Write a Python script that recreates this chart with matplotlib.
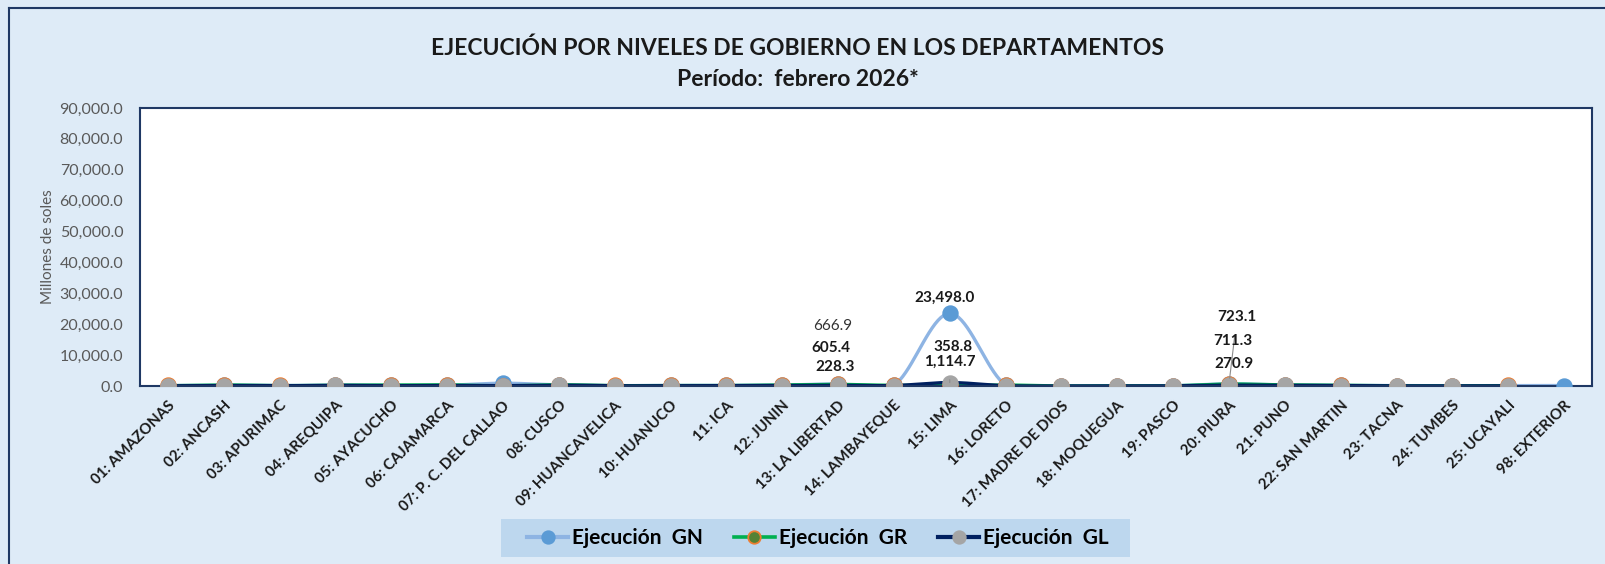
import matplotlib.pyplot as plt
from matplotlib.lines import Line2D
from matplotlib.patches import Rectangle
import numpy as np

plt.rcParams['font.family'] = ['Lato', 'DejaVu Sans']

departamentos = ['01: AMAZONAS', '02: ANCASH', '03: APURIMAC', '04: AREQUIPA',
                 '05: AYACUCHO', '06: CAJAMARCA', '07: P. C. DEL CALLAO', '08: CUSCO',
                 '09: HUANCAVELICA', '10: HUANUCO', '11: ICA', '12: JUNIN',
                 '13: LA LIBERTAD', '14: LAMBAYEQUE', '15: LIMA', '16: LORETO',
                 '17: MADRE DE DIOS', '18: MOQUEGUA', '19: PASCO', '20: PIURA',
                 '21: PUNO', '22: SAN MARTIN', '23: TACNA', '24: TUMBES',
                 '25: UCAYALI', '98: EXTERIOR']

# millones de soles (estimados, salvo los rotulados)
ejec_gn = [150, 250, 150, 300, 200, 250, 900, 350, 120, 180, 200, 300,
           666.9, 250, 23498.0, 350, 60, 80, 90, 723.1, 300, 200, 120, 80, 130, 150]
ejec_gr = [180, 420, 200, 350, 380, 450, 150, 480, 200, 250, 230, 420,
           605.4, 300, 358.8, 420, 90, 120, 150, 711.3, 450, 330, 150, 120, 200, None]
ejec_gl = [60, 150, 70, 200, 90, 150, 120, 250, 60, 80, 80, 130,
           228.3, 150, 1114.7, 90, 20, 50, 40, 270.9, 170, 100, 40, 30, 50, None]

y_ticks = [0, 10000, 20000, 30000, 40000, 50000, 60000, 70000, 80000, 90000]

W, H = 1606, 564
BG = '#DEEBF7'
NAVY = '#1F3864'


def smooth(xs, ys, n=20):
    # curva suavizada tipo Excel (bezier con tension 1/6)
    pts = np.array([(x, y) for x, y in zip(xs, ys) if y is not None], dtype=float)
    if len(pts) < 3:
        return pts[:, 0], pts[:, 1]
    out = []
    t = np.linspace(0, 1, n)
    for i in range(len(pts) - 1):
        p0 = pts[i - 1] if i > 0 else pts[i]
        p1 = pts[i]
        p2 = pts[i + 1]
        p3 = pts[i + 2] if i + 2 < len(pts) else pts[i + 1]
        c1 = p1 + (p2 - p0) / 6
        c2 = p2 - (p3 - p1) / 6
        seg = ((1 - t) ** 3)[:, None] * p1 + (3 * (1 - t) ** 2 * t)[:, None] * c1 \
            + (3 * (1 - t) * t ** 2)[:, None] * c2 + (t ** 3)[:, None] * p2
        out.append(seg if i == 0 else seg[1:])
    out = np.vstack(out)
    return out[:, 0], out[:, 1]


fig = plt.figure(figsize=(W / 100, H / 100), dpi=100)
fig.patch.set_facecolor(BG)

# borde exterior del grafico
fig.add_artist(Line2D([9 / W, 9 / W], [0, 1 - 8 / H], color=NAVY, lw=1.5))
fig.add_artist(Line2D([9 / W, 1], [1 - 8 / H, 1 - 8 / H], color=NAVY, lw=1.5))

ax = fig.add_axes([140 / W, 1 - 386 / H, 1452 / W, 278 / H])
ax.set_facecolor('white')
x = np.arange(len(departamentos))

series = [
    (ejec_gn, '#8EB4E3', 2.4, '#5B9BD5', '#5B9BD5', 'Ejecución  GN'),
    (ejec_gr, '#00B050', 2.0, '#548235', '#ED7D31', 'Ejecución  GR'),
    (ejec_gl, '#002060', 2.4, '#A5A5A5', '#A5A5A5', 'Ejecución  GL'),
]
handles = []
for vals, lc, lw, mfc, mec, name in series:
    sx, sy = smooth(x, vals)
    ax.plot(sx, sy, color=lc, lw=lw, zorder=2, solid_capstyle='round')
    px = [xi for xi, v in zip(x, vals) if v is not None]
    py = [v for v in vals if v is not None]
    ax.plot(px, py, ls='none', marker='o', ms=10.5, mfc=mfc, mec=mec, mew=1.3, zorder=3)
    handles.append(Line2D([], [], color=lc, lw=lw + 0.6, marker='o', ms=9,
                          mfc=mfc, mec=mec, mew=1.3, label=name))

ax.set_xlim(-0.5, len(departamentos) - 0.5)
ax.set_ylim(0, 90000)
ax.set_yticks(y_ticks)
ax.set_yticklabels([f'{v:,.1f}' for v in y_ticks], fontsize=11.5, color='#595959')
ax.set_xticks(x)
ax.set_xticklabels(departamentos, rotation=45, ha='right', rotation_mode='anchor',
                   fontsize=10.8, fontweight='bold', color='#1a1a1a')
ax.tick_params(length=0)
ax.tick_params(axis='y', pad=12)
ax.tick_params(axis='x', pad=9)
ax.set_ylabel('Millones de soles', fontsize=11, color='#595959', labelpad=3)
for s in ax.spines.values():
    s.set_color(NAVY)
    s.set_linewidth(1.5)

# rotulos de datos
lab = dict(textcoords='offset pixels', ha='center', va='center', fontsize=11,
           fontweight='bold', color='#1a1a1a', zorder=5)
i_ll, i_lima, i_piura = 12, 14, 19
ax.annotate(f'{ejec_gn[i_lima]:,.1f}', (i_lima, ejec_gn[i_lima]), xytext=(-5, 16), **lab)
ax.annotate(f'{ejec_gr[i_lima]:,.1f}', (i_lima, ejec_gr[i_lima]), xytext=(3, 38), **lab)
ax.annotate(f'{ejec_gl[i_lima]:,.1f}', (i_lima, ejec_gl[i_lima]), xytext=(0, 21),
            arrowprops=dict(arrowstyle='-', color='#8c8c8c', lw=0.8, shrinkA=6, shrinkB=0),
            **lab)
lab_n = dict(lab, fontweight='normal', color='#333333')
ax.annotate(f'{ejec_gn[i_ll]:,.1f}', (i_ll, ejec_gn[i_ll]), xytext=(-5, 58), **lab_n)
ax.annotate(f'{ejec_gr[i_ll]:,.1f}', (i_ll, ejec_gr[i_ll]), xytext=(-7, 36), **lab)
ax.annotate(f'{ejec_gl[i_ll]:,.1f}', (i_ll, ejec_gl[i_ll]), xytext=(-3, 18), **lab)
ax.annotate(f'{ejec_gn[i_piura]:,.1f}', (i_piura, ejec_gn[i_piura]), xytext=(8, 67),
            arrowprops=dict(arrowstyle='-', color='#8c8c8c', lw=0.8, shrinkA=7, shrinkB=4),
            **lab)
ax.annotate(f'{ejec_gr[i_piura]:,.1f}', (i_piura, ejec_gr[i_piura]), xytext=(4, 43), **lab)
ax.annotate(f'{ejec_gl[i_piura]:,.1f}', (i_piura, ejec_gl[i_piura]), xytext=(5, 21), **lab)

# titulo
fig.text(798 / W, 1 - 48 / H, 'EJECUCIÓN POR NIVELES DE GOBIERNO EN LOS DEPARTAMENTOS',
         ha='center', va='center', fontsize=16.5, fontweight='bold', color='#1a1a1a')
fig.text(798 / W, 1 - 79 / H, 'Período:  febrero 2026*',
         ha='center', va='center', fontsize=16.5, fontweight='bold', color='#1a1a1a')

# leyenda con fondo propio
fig.add_artist(Rectangle((501 / W, 1 - 557 / H), 629 / W, 38 / H,
                         transform=fig.transFigure, facecolor='#BDD7EE',
                         edgecolor='none', zorder=1))
leg = fig.legend(handles=handles, loc='center', bbox_to_anchor=(818 / W, 1 - 538 / H),
                 ncol=3, frameon=False, handlelength=1.95,
                 columnspacing=1.5, handletextpad=0.2,
                 prop={'size': 15, 'weight': 'bold'})
leg.set_zorder(2)

fig.savefig('out.png', dpi=100, facecolor=BG)
